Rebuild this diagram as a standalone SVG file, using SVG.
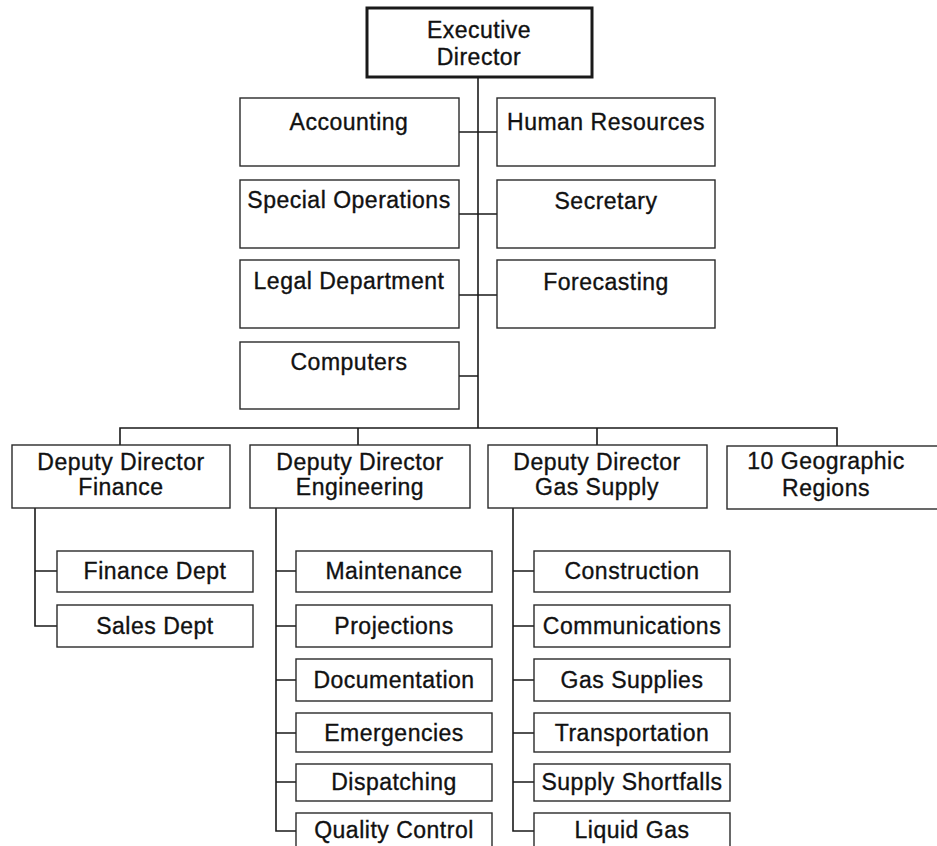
<svg xmlns="http://www.w3.org/2000/svg" width="937" height="846" viewBox="0 0 937 846">
<style>
  .box { fill: #ffffff; stroke: #2a2a2a; stroke-width: 1.4; }
  .exec { fill: #ffffff; stroke: #1a1a1a; stroke-width: 3; }
  .t { font-family: "Liberation Sans", Arial, Helvetica, sans-serif; font-size: 23px; letter-spacing: 0.5px; fill: #111111; stroke: #111111; stroke-width: 0.35; text-anchor: middle; }
  .c { fill: none; stroke: #1a1a1a; stroke-width: 1.6; }
</style>
<rect width="937" height="846" fill="#ffffff"/>
<g id="connectors">
  <path class="c" d="M478,77 V428"/>
  <path class="c" d="M459,132 H497 M459,214 H497 M459,295 H497 M459,376 H478"/>
  <path class="c" d="M120,445 V428 H837 V446 M358,428 V445 M597,428 V445"/>
  <path class="c" d="M35,508 V626 H57 M35,571 H57"/>
  <path class="c" d="M276,508 V831 H296 M276,571 H296 M276,626 H296 M276,680 H296 M276,733 H296 M276,782 H296"/>
  <path class="c" d="M513,508 V831 H534 M513,571 H534 M513,626 H534 M513,680 H534 M513,733 H534 M513,782 H534"/>
</g>
<g id="executive-director">
  <rect class="exec" x="367" y="8" width="225" height="69"/>
  <text class="t" x="479" y="38">Executive</text>
  <text class="t" x="479" y="65">Director</text>
</g>
<g id="accounting">
  <rect class="box" x="240" y="98" width="219" height="68"/>
  <text class="t" x="349" y="130">Accounting</text>
</g>
<g id="human-resources">
  <rect class="box" x="497" y="98" width="218" height="68"/>
  <text class="t" x="606" y="130">Human Resources</text>
</g>
<g id="special-operations">
  <rect class="box" x="240" y="180" width="219" height="68"/>
  <text class="t" x="349" y="208">Special Operations</text>
</g>
<g id="secretary">
  <rect class="box" x="497" y="180" width="218" height="68"/>
  <text class="t" x="606" y="209">Secretary</text>
</g>
<g id="legal-department">
  <rect class="box" x="240" y="260" width="219" height="68"/>
  <text class="t" x="349" y="289">Legal Department</text>
</g>
<g id="forecasting">
  <rect class="box" x="497" y="260" width="218" height="68"/>
  <text class="t" x="606" y="290">Forecasting</text>
</g>
<g id="computers">
  <rect class="box" x="240" y="342" width="219" height="67"/>
  <text class="t" x="349" y="370">Computers</text>
</g>
<g id="deputy-finance">
  <rect class="box" x="12" y="445" width="218" height="63"/>
  <text class="t" x="121" y="470">Deputy Director</text>
  <text class="t" x="121" y="495">Finance</text>
</g>
<g id="deputy-engineering">
  <rect class="box" x="250" y="445" width="220" height="63"/>
  <text class="t" x="360" y="470">Deputy Director</text>
  <text class="t" x="360" y="495">Engineering</text>
</g>
<g id="deputy-gas-supply">
  <rect class="box" x="488" y="445" width="219" height="63"/>
  <text class="t" x="597" y="470">Deputy Director</text>
  <text class="t" x="597" y="495">Gas Supply</text>
</g>
<g id="geographic-regions">
  <rect class="box" x="727" y="446" width="215" height="63"/>
  <text class="t" x="826" y="469">10 Geographic</text>
  <text class="t" x="826" y="496">Regions</text>
</g>
<g id="finance-dept">
  <rect class="box" x="57" y="551" width="196" height="41"/>
  <text class="t" x="155" y="579">Finance Dept</text>
</g>
<g id="sales-dept">
  <rect class="box" x="57" y="605" width="196" height="42"/>
  <text class="t" x="155" y="634">Sales Dept</text>
</g>
<g id="maintenance">
  <rect class="box" x="296" y="551" width="196" height="41"/>
  <text class="t" x="394" y="579">Maintenance</text>
</g>
<g id="projections">
  <rect class="box" x="296" y="605" width="196" height="42"/>
  <text class="t" x="394" y="634">Projections</text>
</g>
<g id="documentation">
  <rect class="box" x="296" y="659" width="196" height="42"/>
  <text class="t" x="394" y="688">Documentation</text>
</g>
<g id="emergencies">
  <rect class="box" x="296" y="713" width="196" height="39"/>
  <text class="t" x="394" y="741">Emergencies</text>
</g>
<g id="dispatching">
  <rect class="box" x="296" y="764" width="196" height="37"/>
  <text class="t" x="394" y="790">Dispatching</text>
</g>
<g id="quality-control">
  <rect class="box" x="296" y="813" width="196" height="45"/>
  <text class="t" x="394" y="838">Quality Control</text>
</g>
<g id="construction">
  <rect class="box" x="534" y="551" width="196" height="41"/>
  <text class="t" x="632" y="579">Construction</text>
</g>
<g id="communications">
  <rect class="box" x="534" y="605" width="196" height="42"/>
  <text class="t" x="632" y="634">Communications</text>
</g>
<g id="gas-supplies">
  <rect class="box" x="534" y="659" width="196" height="42"/>
  <text class="t" x="632" y="688">Gas Supplies</text>
</g>
<g id="transportation">
  <rect class="box" x="534" y="713" width="196" height="39"/>
  <text class="t" x="632" y="741">Transportation</text>
</g>
<g id="supply-shortfalls">
  <rect class="box" x="534" y="764" width="196" height="37"/>
  <text class="t" x="632" y="790">Supply Shortfalls</text>
</g>
<g id="liquid-gas">
  <rect class="box" x="534" y="813" width="196" height="45"/>
  <text class="t" x="632" y="838">Liquid Gas</text>
</g>
</svg>
